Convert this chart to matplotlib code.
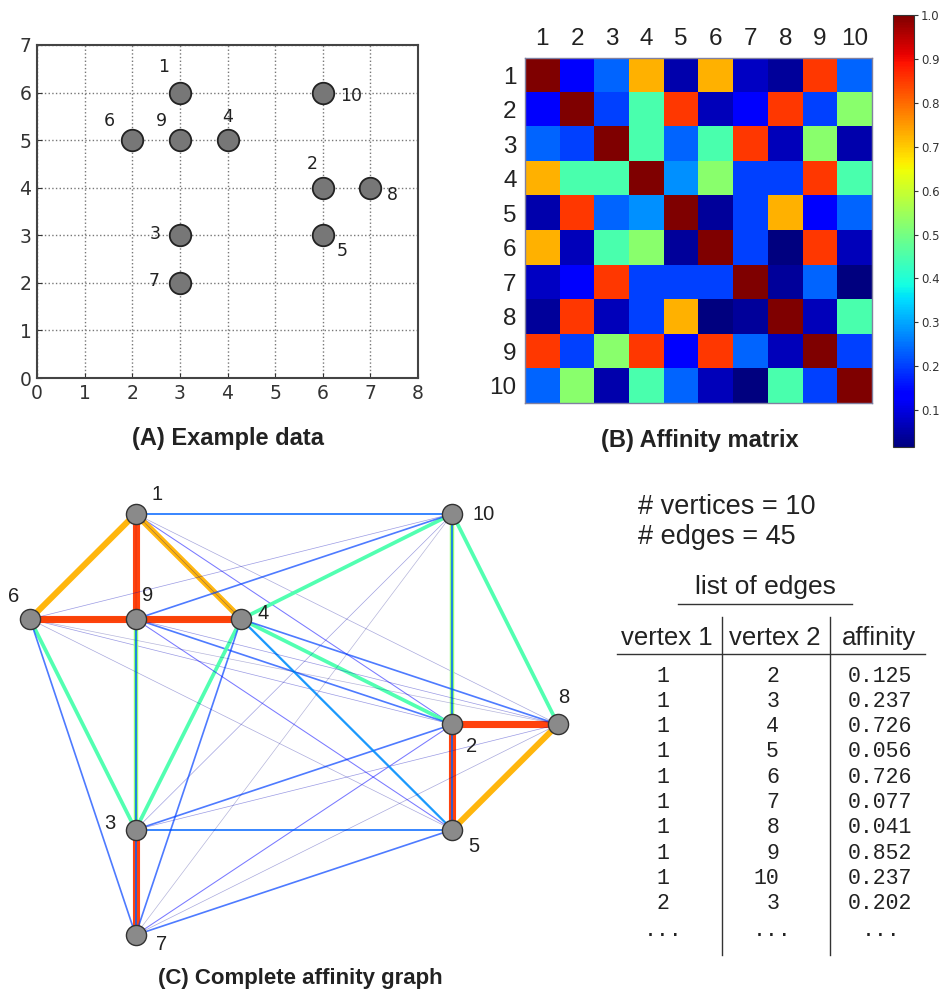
import matplotlib
matplotlib.use('Agg')
import matplotlib.pyplot as plt
from matplotlib.lines import Line2D
from matplotlib.colors import Normalize
import numpy as np

# Beispieldaten (Punkte 1..10)
point_ids = ['1', '2', '3', '4', '5', '6', '7', '8', '9', '10']
point_x = [3, 6, 3, 4, 6, 2, 3, 7, 3, 6]
point_y = [6, 4, 3, 5, 3, 5, 2, 4, 5, 6]

# Affinitaetsmatrix
affinity = [
    [1.000, 0.125, 0.237, 0.726, 0.056, 0.726, 0.077, 0.041, 0.852, 0.237],
    [0.125, 1.000, 0.202, 0.449, 0.852, 0.066, 0.125, 0.852, 0.202, 0.527],
    [0.237, 0.202, 1.000, 0.449, 0.237, 0.449, 0.852, 0.066, 0.527, 0.056],
    [0.726, 0.449, 0.449, 1.000, 0.278, 0.527, 0.202, 0.202, 0.852, 0.449],
    [0.056, 0.852, 0.237, 0.278, 1.000, 0.041, 0.202, 0.726, 0.125, 0.237],
    [0.726, 0.066, 0.449, 0.527, 0.041, 1.000, 0.202, 0.016, 0.852, 0.066],
    [0.077, 0.125, 0.852, 0.202, 0.202, 0.202, 1.000, 0.041, 0.237, 0.018],
    [0.041, 0.852, 0.066, 0.202, 0.726, 0.016, 0.041, 1.000, 0.066, 0.449],
    [0.852, 0.202, 0.527, 0.852, 0.125, 0.852, 0.237, 0.066, 1.000, 0.202],
    [0.237, 0.527, 0.056, 0.449, 0.237, 0.066, 0.018, 0.449, 0.202, 1.000],
]
cbar_ticks = [0.1, 0.2, 0.3, 0.4, 0.5, 0.6, 0.7, 0.8, 0.9, 1.0]

# Label-Versatz in Pixel (Panel A und C)
offs_a = [(-16, 26), (-11, 24), (-25, 1), (0, 23), (19, -16), (-23, 19), (-26, 2), (22, -7), (-18, 19), (28, -3)]
offs_c = [(21, 19), (19, -22), (-26, 6), (22, 6), (21, -17), (-16, 23), (26, -10), (6, 27), (12, 24), (31, -1)]

W, H = 942, 997
fig = plt.figure(figsize=(W / 100, H / 100), dpi=100)


def rect(l, t, r, b):
    return [l / W, 1 - b / H, (r - l) / W, (b - t) / H]


def fx(x):
    return x / W


def fy(y):
    return 1 - y / H


A = np.array(affinity)
n = len(point_ids)
norm = Normalize(vmin=A.min(), vmax=1.0)
txt = '#222222'
sans = 'Liberation Sans'

# (A) Beispieldaten
axA = fig.add_axes(rect(37, 45, 418, 378))
axA.set_xlim(0, 8)
axA.set_ylim(0, 7)
axA.grid(True, linestyle=':', color='#777777', linewidth=1)
axA.set_axisbelow(True)
axA.plot(point_x, point_y, 'o', ms=15.5, mfc='#777777', mec='#222222', mew=1.3, zorder=3)
for i in range(n):
    axA.annotate(point_ids[i], (point_x[i], point_y[i]), xytext=offs_a[i],
                 textcoords='offset pixels', ha='center', va='center', fontsize=12.5, color=txt)
axA.tick_params(direction='in', labelsize=13.5, colors='#333333', pad=4)
axA.set_xticks(range(9))
axA.set_yticks(range(8))
for s in axA.spines.values():
    s.set_color('#444444')
    s.set_linewidth(1.5)
fig.text(fx(228), fy(438), '(A) Example data', ha='center', va='center',
         fontsize=17, weight='bold', family=sans, color=txt)

# (B) Affinitaetsmatrix
axB = fig.add_axes(rect(525, 58, 872, 403))
im = axB.imshow(A, cmap='jet', norm=norm, interpolation='nearest', aspect='auto')
axB.xaxis.tick_top()
axB.set_xticks(range(n))
axB.set_xticklabels(point_ids)
axB.set_yticks(range(n))
axB.set_yticklabels(point_ids)
axB.tick_params(length=0, labelsize=17.5, colors=txt, pad=6)
for lab in axB.get_xticklabels() + axB.get_yticklabels():
    lab.set_family(sans)
for s in axB.spines.values():
    s.set_color('#8080a0')
    s.set_linewidth(1)
cax = fig.add_axes(rect(893, 15, 914, 447))
cb = fig.colorbar(im, cax=cax, ticks=cbar_ticks)
cb.ax.set_yticklabels(['%.1f' % t for t in cbar_ticks])
cb.ax.tick_params(labelsize=8.5, colors='#333333', length=3, pad=2)
cb.outline.set_edgecolor('#333333')
fig.text(fx(700), fy(440), '(B) Affinity matrix', ha='center', va='center',
         fontsize=17, weight='bold', family=sans, color=txt)

# (C) vollstaendiger Graph
axC = fig.add_axes(rect(0, 470, 600, 960))
axC.set_xlim(2 - 30 / 105.6, 2 + 570 / 105.6)
axC.set_ylim(2 - 25 / 105.3, 2 + 465 / 105.3)
axC.axis('off')
pairs = [(i, j) for i in range(n) for j in range(i + 1, n)]
for i, j in pairs:
    a = A[i, j]
    axC.plot([point_x[i], point_x[j]], [point_y[i], point_y[j]], color=plt.cm.jet(norm(a)),
             lw=max(0.5, 6 * a), alpha=min(0.95, 0.25 + 2.2 * a), solid_capstyle='butt', zorder=1)
axC.plot(point_x, point_y, 'o', ms=14.5, mfc='#8a8a8a', mec='#333333', mew=1, zorder=5)
for i in range(n):
    axC.annotate(point_ids[i], (point_x[i], point_y[i]), xytext=offs_c[i],
                 textcoords='offset pixels', ha='center', va='center', fontsize=14.5,
                 family=sans, color=txt)
fig.text(fx(300), fy(978), '(C) Complete affinity graph', ha='center', va='center',
         fontsize=16, weight='bold', family=sans, color=txt)

# Text und Kantenliste
fig.text(fx(638), fy(507), '# vertices = %d' % n, va='center', fontsize=19.5,
         family=sans, color=txt)
fig.text(fx(638), fy(537), '# edges = %d' % len(pairs), va='center', fontsize=19.5,
         family=sans, color=txt)
fig.text(fx(765), fy(587), 'list of edges', ha='center', va='center', fontsize=19,
         family=sans, color=txt)
fig.add_artist(Line2D([fx(678), fx(852)], [fy(604), fy(604)], color='#333333', lw=1))
for x, s in [(667, 'vertex 1'), (775, 'vertex 2'), (879, 'affinity')]:
    fig.text(fx(x), fy(638), s, ha='center', va='center', fontsize=18.5,
             family=sans, color=txt)
fig.add_artist(Line2D([fx(617), fx(925)], [fy(654), fy(654)], color='#333333', lw=1))
for x in [722, 830]:
    fig.add_artist(Line2D([fx(x), fx(x)], [fy(617), fy(955)], color='#333333', lw=1))

for k, (i, j) in enumerate(pairs[:10]):
    y = 676 + k * 25.3
    fig.text(fx(663), fy(y), point_ids[i], ha='center', va='center', fontsize=15.5,
             family='Liberation Mono', color=txt)
    fig.text(fx(779), fy(y), point_ids[j], ha='right', va='center', fontsize=15.5,
             family='Liberation Mono', color=txt)
    fig.text(fx(880), fy(y), '%.3f' % A[i, j], ha='center', va='center', fontsize=15.5,
             family='Liberation Mono', color=txt)
for x in [663, 772, 881]:
    fig.text(fx(x), fy(930), '...', ha='center', va='center', fontsize=15.5,
             family='Liberation Mono', color=txt)

fig.savefig('out.png', dpi=100)
